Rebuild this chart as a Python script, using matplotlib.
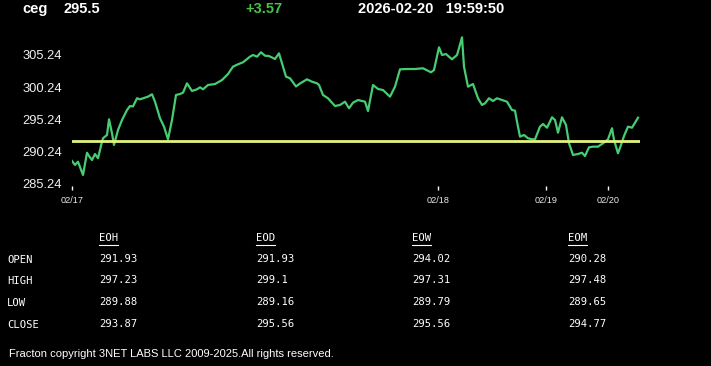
import matplotlib
matplotlib.use("Agg")
from matplotlib import pyplot as plt
from matplotlib.lines import Line2D

# header info
symbol = "ceg"
last_price = "295.5"
change = "+3.57"
stamp = "2026-02-20   19:59:50"

# price trace (x = position along the session axis, y = price)
pos = [0, 3, 6, 11, 15, 17, 20, 23, 26, 30, 31, 35, 37, 40, 42, 46, 50, 55, 58, 61,
       65, 68, 73, 76, 80, 83, 88, 92, 96, 100, 104, 108, 111, 115, 120, 125, 128, 131,
       136, 143, 150, 156, 161, 166, 171, 178, 181, 185, 189, 193, 197, 203, 207, 210,
       214, 218, 224, 228, 235, 240, 245, 247, 251, 256, 263, 268, 273, 277, 281, 286,
       293, 296, 301, 306, 311, 318, 323, 328, 335, 343, 351, 359, 362, 367, 370, 374,
       380, 385, 387, 390, 392, 396, 401, 406, 410, 413, 417, 421, 425, 430, 435, 440,
       443, 445, 448, 452, 456, 460, 463, 468, 471, 475, 480, 483, 486, 490, 494, 497,
       501, 506, 510, 513, 517, 521, 526, 531, 536, 540, 542, 546, 549, 552, 556, 560, 566]
price = [288.80, 288.18, 288.69, 286.63, 290.08, 289.57, 288.95, 289.88, 289.22, 291.79,
         292.32, 292.83, 295.26, 293.09, 291.28, 293.60, 295.15, 296.70, 297.32, 297.25,
         298.52, 298.36, 298.61, 298.77, 299.14, 297.99, 295.42, 294.12, 292.16, 295.15,
         299.03, 299.18, 299.39, 300.84, 299.65, 299.91, 300.22, 299.91, 300.58, 300.73,
         301.35, 302.28, 303.42, 303.79, 304.10, 304.97, 305.23, 304.97, 305.65, 305.12,
         305.07, 304.61, 305.49, 303.94, 301.87, 301.62, 300.35, 300.81, 301.46, 301.09,
         300.84, 300.58, 299.03, 298.52, 297.32, 297.48, 297.99, 296.97, 297.84, 298.25,
         297.99, 296.55, 300.58, 299.96, 299.80, 298.77, 300.32, 303.01, 303.06, 303.06,
         303.17, 302.55, 302.90, 306.42, 305.23, 305.38, 304.56, 305.23, 306.27, 307.97,
         303.42, 300.32, 300.73, 298.52, 297.48, 297.74, 298.52, 298.10, 298.52, 298.25,
         297.99, 296.70, 296.60, 294.89, 292.57, 292.83, 292.32, 292.16, 292.16, 294.12,
         294.53, 293.96, 295.57, 295.15, 293.19, 295.57, 294.38, 291.54, 289.73, 289.88,
         290.08, 289.57, 290.92, 291.02, 291.02, 291.54, 292.16, 293.87, 292.05, 289.99,
         291.28, 292.67, 294.12, 293.96, 295.50]
ref_level = 291.93

yticks = [285.24, 290.24, 295.24, 300.24, 305.24]
day_pos = [0, 366, 474, 536]
day_labels = ["02/17", "02/18", "02/19", "02/20"]

# summary table
col_names = ["EOH", "EOD", "EOW", "EOM"]
row_names = ["OPEN", "HIGH", "LOW", "CLOSE"]
open_vals = ["291.93", "291.93", "294.02", "290.28"]
high_vals = ["297.23", "299.1", "297.31", "297.48"]
low_vals = ["289.88", "289.16", "289.79", "289.65"]
close_vals = ["293.87", "295.56", "295.56", "294.77"]

W, H = 711, 366
fig = plt.figure(figsize=(W / 100, H / 100), dpi=100, facecolor="black")


def fx(x):
    return x / W


def fy(y):
    return 1 - y / H


ax = fig.add_axes([fx(72), fy(186), fx(568), 151 / H], facecolor="black")
ax.plot(pos, price, color="#46cc72", lw=1.6, solid_joinstyle="round")
ax.axhline(ref_level, color="#e4f27e", lw=2)
ax.set_xlim(0, 568)
ax.set_ylim(284.92, 308.33)
for s in ax.spines.values():
    s.set_visible(False)
ax.set_yticks(yticks)
ax.set_yticklabels([f"{v:.2f}" for v in yticks])
ax.tick_params(axis="y", length=0, pad=7, labelsize=9.3, labelcolor="#f0f0f0")
ax.set_xticks(day_pos)
ax.set_xticklabels(day_labels)
ax.tick_params(axis="x", length=3, width=1, color="white", pad=4,
               labelsize=6.6, labelcolor="#e8e8e8")
for t in ax.get_yticklabels() + ax.get_xticklabels():
    t.set_family("Liberation Sans")

# header
hdr = dict(color="white", fontsize=10.5, fontweight="bold",
           family="Liberation Sans", va="center")
fig.text(fx(22), fy(9), symbol, **hdr)
fig.text(fx(64), fy(9), last_price, **hdr)
fig.text(fx(245), fy(9), change, **{**hdr, "color": "#47c247"})
fig.text(fx(358), fy(9), stamp, **hdr)

# table
mono = dict(color="white", fontsize=7.6, family="DejaVu Sans Mono", va="center")
col_x = [99, 256, 412, 568]
row_y = [260, 281, 303, 325]
for cx, name in zip(col_x, col_names):
    fig.text(fx(cx), fy(238), name, **mono)
    fig.add_artist(Line2D([fx(cx), fx(cx + 19)], [fy(244.5), fy(244.5)],
                          color="white", lw=0.8))
for ry, name in zip(row_y, row_names):
    fig.text(fx(7), fy(ry), name, **mono)
for ry, vals in zip(row_y, [open_vals, high_vals, low_vals, close_vals]):
    for cx, v in zip(col_x, vals):
        fig.text(fx(cx), fy(ry - 1), v, **mono)

fig.text(fx(9), fy(354), "Fracton copyright 3NET LABS LLC 2009-2025.All rights reserved.",
         color="white", fontsize=8, family="Liberation Sans", va="center")

fig.savefig("out.png", dpi=100, facecolor="black")
